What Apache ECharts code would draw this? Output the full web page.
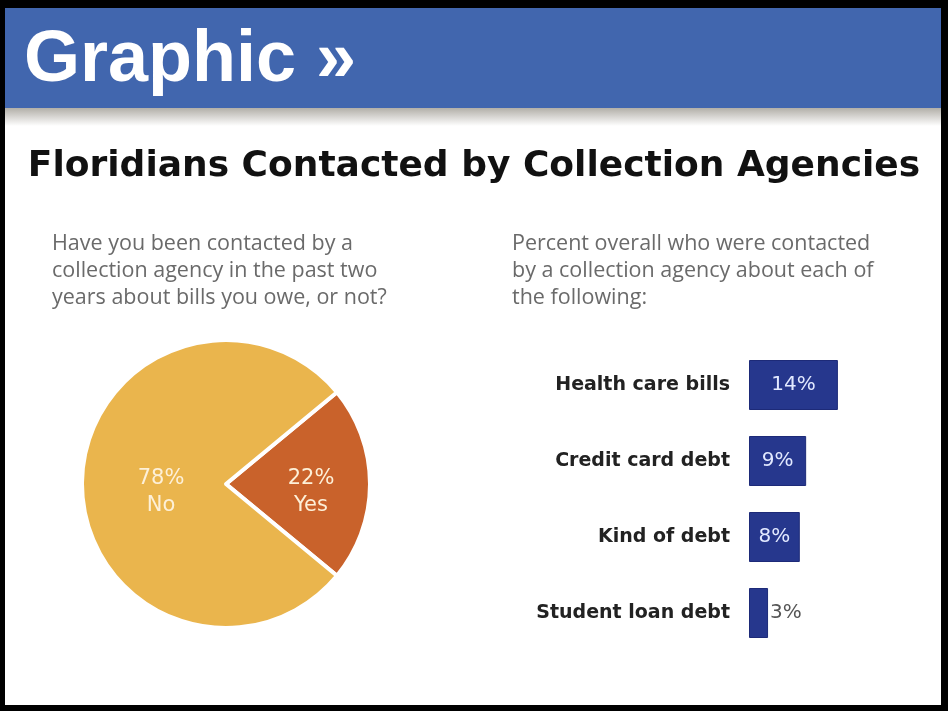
<!DOCTYPE html>
<html>
<head>
<meta charset="utf-8">
<script src="https://cdn.jsdelivr.net/npm/echarts@6/dist/echarts.min.js"></script>
<style>
  html, body { margin: 0; padding: 0; background: #000; }
  #main { width: 948px; height: 711px; }
</style>
</head>
<body>
<div id="main"></div>
<script>
// data
var pieNames = ['Yes', 'No'];
var pieValues = [22, 78];

var barCats = ['Health care bills', 'Credit card debt', 'Kind of debt', 'Student loan debt'];
var barValues = [14, 9, 8, 3];

var chart = echarts.init(document.getElementById('main'));

var pieData = pieNames.map(function (n, i) { return { name: n, value: pieValues[i] }; });
var barData = barValues.map(function (v) {
    // small bars keep their label outside
    return v < 5 ? { value: v, label: { position: 'right', distance: 2, color: '#555' } } : v;
});

var option = {
    backgroundColor: '#000',
    animation: false,
    graphic: [
        // white page inside the black frame
        { type: 'rect', shape: { x: 5, y: 8, width: 936, height: 697 }, style: { fill: '#fff' }, z: -10 },
        // blue banner
        { type: 'rect', shape: { x: 5, y: 8, width: 936, height: 100 }, style: { fill: '#4166ae' }, z: -9 },
        // grey shadow under the banner
        {
            type: 'rect', shape: { x: 5, y: 108, width: 936, height: 18 }, z: -9,
            style: {
                fill: new echarts.graphic.LinearGradient(0, 0, 0, 1, [
                    { offset: 0, color: '#b2afa8' },
                    { offset: 1, color: '#ffffff' }
                ])
            }
        },
        {
            type: 'text', left: 24, top: 25,
            style: { text: 'Graphic »', fill: '#fff', font: 'bold 72px "Liberation Sans", Arial, sans-serif' }
        },
        {
            type: 'text', left: 52, top: 230,
            style: {
                text: 'Have you been contacted by a\ncollection agency in the past two\nyears about bills you owe, or not?',
                fill: '#6a6a6a', font: '21.5px "Open Sans", sans-serif', lineHeight: 27
            }
        },
        {
            type: 'text', left: 512, top: 230,
            style: {
                text: 'Percent overall who were contacted\nby a collection agency about each of\nthe following:',
                fill: '#6a6a6a', font: '21.5px "Open Sans", sans-serif', lineHeight: 27
            }
        }
    ],
    title: {
        text: 'Floridians Contacted by Collection Agencies',
        left: 'center', top: 144,
        textStyle: { fontFamily: 'DejaVu Sans', fontWeight: 'bold', fontSize: 36, color: '#111' }
    },
    grid: { left: 749, right: 72, top: 347, bottom: 60 },
    xAxis: { type: 'value', min: 0, max: 20, show: false },
    yAxis: {
        type: 'category', data: barCats, inverse: true,
        axisLine: { show: false }, axisTick: { show: false },
        axisLabel: { margin: 19, color: '#222', fontWeight: 'bold', fontSize: 19, fontFamily: 'DejaVu Sans' }
    },
    series: [
        {
            type: 'pie',
            center: [226, 484],
            radius: 144,
            startAngle: 39.6,
            clockwise: true,
            data: pieData,
            color: ['#c9622b', '#eab54d'],
            itemStyle: { borderColor: '#fff', borderWidth: 4 },
            label: {
                position: 'inside',
                formatter: '{c}%\n{b}',
                color: '#fdf0d8',
                fontSize: 21,
                lineHeight: 27,
                fontFamily: 'DejaVu Sans',
                offset: [10, 8]
            },
            labelLine: { show: false }
        },
        {
            type: 'bar',
            data: barData,
            barWidth: 50,
            itemStyle: { color: '#26378d', borderColor: '#1d2a78', borderWidth: 1 },
            label: {
                show: true, position: 'inside', formatter: '{c}%',
                color: '#e2e9ff', fontSize: 20, fontFamily: 'DejaVu Sans'
            }
        }
    ]
};

chart.setOption(option);
</script>
</body>
</html>
